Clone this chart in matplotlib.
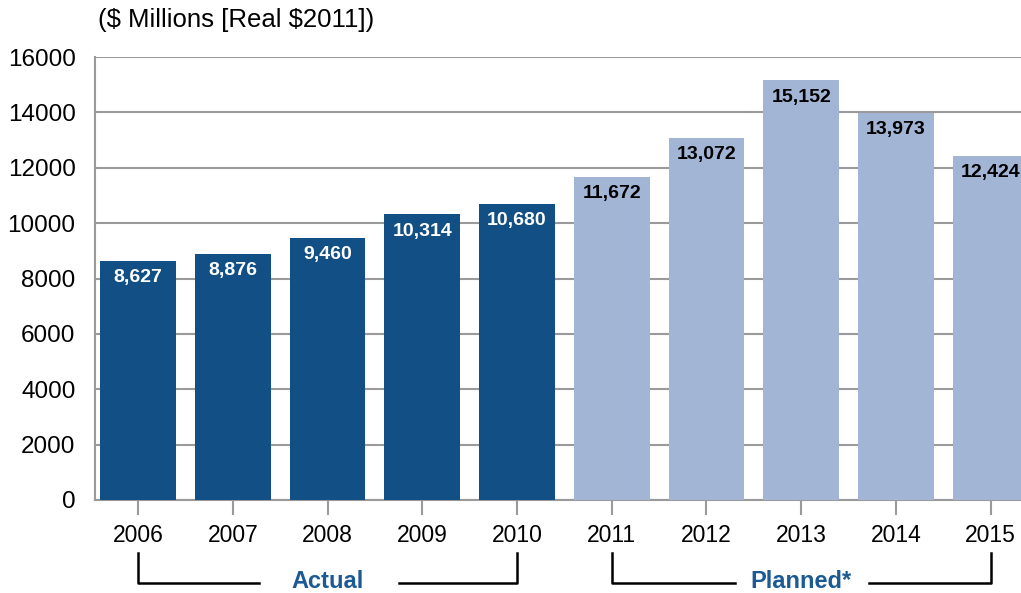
import matplotlib.pyplot as plt
from matplotlib.transforms import blended_transform_factory

plt.rcParams['font.family'] = ['Liberation Sans', 'DejaVu Sans']

years = ['2006', '2007', '2008', '2009', '2010',
         '2011', '2012', '2013', '2014', '2015']
spending = [8627, 8876, 9460, 10314, 10680,
            11672, 13072, 15152, 13973, 12424]
n_actual = 5

dark = '#124f84'
light = '#a2b5d5'
grid_gray = '#9a9a9a'

fig = plt.figure(figsize=(10.21, 5.93), dpi=100)
ax = fig.add_axes([95 / 1021, 93 / 593, 1 - 95 / 1021, 443 / 593])

xs = list(range(len(years)))
colors = [dark if i < n_actual else light for i in xs]
ax.bar(xs, spending, width=0.80, color=colors, zorder=3)

# value labels inside the top of each bar
for i, v in enumerate(spending):
    ax.annotate(f'{v:,}', (i, v), xytext=(0, -12), textcoords='offset points',
                ha='center', va='center', fontsize=14, fontweight='bold',
                color='white' if i < n_actual else 'black', zorder=4)

ax.set_xlim(-0.455, 9.32)
ax.set_ylim(0, 16000)
ax.set_yticks(range(0, 16001, 2000))
ax.yaxis.grid(True, color=grid_gray, linewidth=1.5, zorder=0)
ax.set_axisbelow(True)

ax.set_xticks(xs)
ax.set_xticklabels(years)
ax.tick_params(axis='x', length=11, width=1.5, color=grid_gray,
               labelsize=16.5, pad=6)
ax.tick_params(axis='y', length=0, labelsize=17.5, pad=14)

for side in ['top', 'right']:
    ax.spines[side].set_visible(False)
for side in ['left', 'bottom']:
    ax.spines[side].set_color(grid_gray)
    ax.spines[side].set_linewidth(1.5)

# group brackets below the year labels
trans = blended_transform_factory(ax.transData, ax.transAxes)
y_top, y_bot = -0.120, -0.187
groups = [('Actual', 0, 4, 2, 1.28, 2.75), ('Planned*', 5, 9, 7, 6.3, 7.72)]
for label, a, b, mid, gap_l, gap_r in groups:
    ax.plot([a, a, gap_l], [y_top, y_bot, y_bot], color='black', lw=1.8,
            transform=trans, clip_on=False)
    ax.plot([gap_r, b, b], [y_bot, y_bot, y_top], color='black', lw=1.8,
            transform=trans, clip_on=False)
    ax.text(mid, y_bot + 0.004, label, transform=trans, ha='center',
            va='center', fontsize=17, fontweight='bold', color='#1b5a92')

fig.text(98 / 1021, 1 - 20 / 593, r'(\$ Millions [Real \$2011])',
         ha='left', va='center', fontsize=18.5)

fig.savefig('out.png', dpi=100)
